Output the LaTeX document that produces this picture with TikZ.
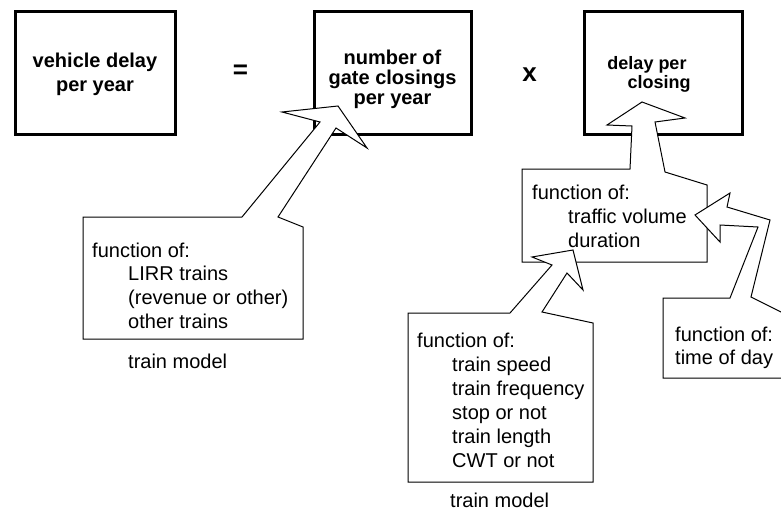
\documentclass[tikz,border=0pt]{standalone}
\usepackage{fontspec}
\setmainfont{Liberation Sans}
\begin{document}
\begin{tikzpicture}[x=1pt, y=-1pt,
  bigbox/.style={draw=black, line width=3pt, inner sep=0pt, minimum height=122.5pt},
  title/.style={font=\fontsize{20}{24}\selectfont\bfseries, inner sep=0pt, anchor=base},
  smalltitle/.style={font=\fontsize{18}{22}\selectfont\bfseries, inner sep=0pt, anchor=base},
  opsign/.style={font=\fontsize{26}{30}\selectfont\bfseries, inner sep=0pt},
  note/.style={font=\fontsize{20}{24}\selectfont, inner sep=0pt, anchor=base west},
  callout/.style={draw=black, fill=white, line width=1pt, line join=miter}]

\useasboundingbox (0,0) rectangle (781,511);
\clip (0,0) rectangle (781,511);

% the three terms of the product
\node[bigbox, minimum width=160pt]   (vdelay)   at (95,73.25)     {};
\node[bigbox, minimum width=157pt]   (closings) at (392.5,73.25)  {};
\node[bigbox, minimum width=158.5pt] (perclose) at (663.25,73.25) {};

\node[title] (vdelay1) at (95,67) {vehicle delay};
\node[title] (vdelay2) at (95,91) {per year};

\node[title] (closings1) at (392.5,64.5) {number of};
\node[title] (closings2) at (392.5,84.5) {gate closings};
\node[title] (closings3) at (392.5,104)  {per year};

\node[smalltitle] (perclose1) at (647,70)   {delay per};
\node[smalltitle] (perclose2) at (659,88.5) {closing};

\node[opsign] (equals) at (240.5,72) {=};
\node[opsign] (times)  at (529.5,75) {x};

% callout pointing into "number of gate closings per year"
\draw[callout] (83,339) -- (83,217) -- (242,217) -- (320,122) -- (282,112)
  -- (338,106) -- (367,148) -- (336,128) -- (278,217) -- (303,227)
  -- (303,339) -- cycle;
\node[note] (trains0) at (92,257)   {function of:};
\node[note] (trains1) at (128,280.5) {LIRR trains};
\node[note] (trains2) at (128,304)  {(revenue or other)};
\node[note] (trains3) at (128,328)  {other trains};
\node[note] (model1)  at (128,368)  {train model};

% callout pointing into "delay per closing"
\draw[callout] (522,262) -- (522,169) -- (630,169) -- (632,126) -- (607,125)
  -- (642,102) -- (685,118) -- (655,122) -- (665,172) -- (707,185)
  -- (707,262) -- cycle;
\node[note] (delay0) at (532,199) {function of:};
\node[note] (delay1) at (568,223) {traffic volume};
\node[note] (delay2) at (568,247) {duration};

% callout pointing at "duration"
\draw[callout] (408,482) -- (408,313) -- (510,313) -- (552,265) -- (532,257)
  -- (573,250) -- (583,290) -- (567,273) -- (542,312) -- (593,323)
  -- (593,482) -- cycle;
\node[note] (dur0) at (417,347) {function of:};
\node[note] (dur1) at (452,371) {train speed};
\node[note] (dur2) at (452,395) {train frequency};
\node[note] (dur3) at (452,419) {stop or not};
\node[note] (dur4) at (452,443) {train length};
\node[note] (dur5) at (452,467) {CWT or not};
\node[note] (model2) at (450,507) {train model};

% callout pointing at "traffic volume"
\draw[callout] (663,378) -- (663,298) -- (730,298) -- (758,227) -- (720,225)
  -- (720,242) -- (695,215) -- (730,193) -- (727,207) -- (770,220)
  -- (751,297) -- (800,321.5) -- (800,378) -- cycle;
\node[note] (tod0) at (675,341) {function of:};
\node[note] (tod1) at (675,364) {time of day};

\end{tikzpicture}
\end{document}
